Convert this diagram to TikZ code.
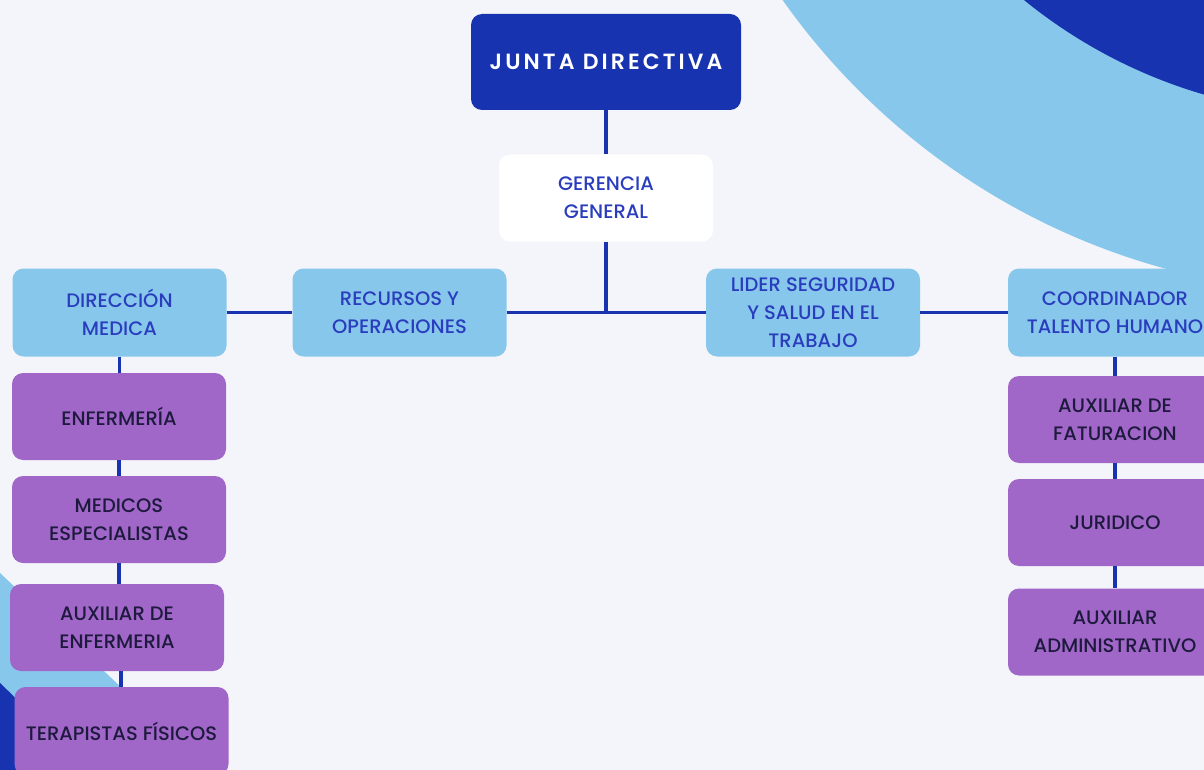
\documentclass[tikz,border=0pt]{standalone}
\usepackage{fontspec}
\IfFontExistsTF{Poppins Medium}{\setmainfont{Poppins Medium}}{\setmainfont{Poppins}}
\IfFontExistsTF{Poppins SemiBold}{\newfontfamily\juntafont[LetterSpace=14]{Poppins SemiBold}}{\newfontfamily\juntafont[LetterSpace=14]{Poppins}}
\usetikzlibrary{calc}
\definecolor{bgc}{HTML}{F4F5FA}
\definecolor{navy}{HTML}{1733B0}
\definecolor{sky}{HTML}{87C7EC}
\definecolor{violet}{HTML}{A066C8}
\definecolor{bluetext}{HTML}{2A3DBD}
\definecolor{darktext}{HTML}{1E1A3E}
\tikzset{
  box/.style={rounded corners=11pt, minimum width=214pt, minimum height=87pt, align=center, inner sep=0pt, font=\fontsize{19.5}{28}\selectfont},
  topbox/.style={box, fill=navy, text=white, minimum width=270pt, minimum height=96pt, font=\juntafont\fontsize{22}{28}\selectfont},
  genbox/.style={box, fill=white, text=bluetext},
  skybox/.style={box, fill=sky, text=bluetext},
  purplebox/.style={box, fill=violet, text=darktext},
  link/.style={draw=navy, line width=3.8pt}
}
\begin{document}
\begin{tikzpicture}[x=1pt, y=-1pt]
\useasboundingbox (0,0) rectangle (1204,770);
\begin{scope}
\clip (0,0) rectangle (1204,770);
\fill[bgc] (0,0) rectangle (1204,770);
\fill[sky] (1348,-399) circle (692);
\fill[navy] (1348,-399) circle (514);
\fill[sky] (0,573) -- (230,790) -- (0,790) -- cycle;
\fill[navy] (0,683) -- (90,770) -- (0,770) -- cycle;
\end{scope}

\node[topbox] (junta) at (606,62) {JUNTA DIRECTIVA};
\node[genbox] (ger) at (606,198) {GERENCIA\\GENERAL};
\coordinate (hub) at (606,313);

\node[skybox, minimum height=88pt] (dir) at (119.5,312.5) {DIRECCIÓN\\MEDICA};
\node[skybox, minimum height=88pt] (rec) at (399.5,312.5) {RECURSOS Y\\OPERACIONES};
\node[skybox, minimum height=88pt] (lid) at (813,312.5) {LIDER SEGURIDAD\\Y SALUD EN EL\\TRABAJO};
\node[skybox, minimum height=88pt] (coo) at (1115,312.5) {COORDINADOR\\TALENTO HUMANO};

\node[purplebox] (enf) at (119,416.5) {ENFERMERÍA};
\node[purplebox] (med) at (119,519.5) {MEDICOS\\ESPECIALISTAS};
\node[purplebox] (aux) at (117,627.5) {AUXILIAR DE\\ENFERMERIA};
\node[purplebox, minimum height=88pt] (ter) at (121.5,731) {TERAPISTAS FÍSICOS};

\node[purplebox] (fat) at (1115,419.5) {AUXILIAR DE\\FATURACION};
\node[purplebox] (jur) at (1115,522.5) {JURIDICO};
\node[purplebox] (adm) at (1115,632) {AUXILIAR\\ADMINISTRATIVO};

\draw[link] (junta.south) -- (ger.north);
\draw[link] (ger.south) -- (hub);
\draw[link] (dir.east) -- (rec.west);
\draw[link] (rec.east) -- (lid.west);
\draw[link] (lid.east) -- (coo.west);

\draw[link] (dir.south) -- (dir.south |- enf.north);
\draw[link] (enf.south) -- (enf.south |- med.north);
\draw[link] (med.south) -- (med.south |- aux.north);
\draw[link] (aux.south) ++(4,0) -- ($(aux.south |- ter.north)+(4,0)$);

\draw[link] (coo.south) -- (coo.south |- fat.north);
\draw[link] (fat.south) -- (fat.south |- jur.north);
\draw[link] (jur.south) -- (jur.south |- adm.north);
\end{tikzpicture}
\end{document}
